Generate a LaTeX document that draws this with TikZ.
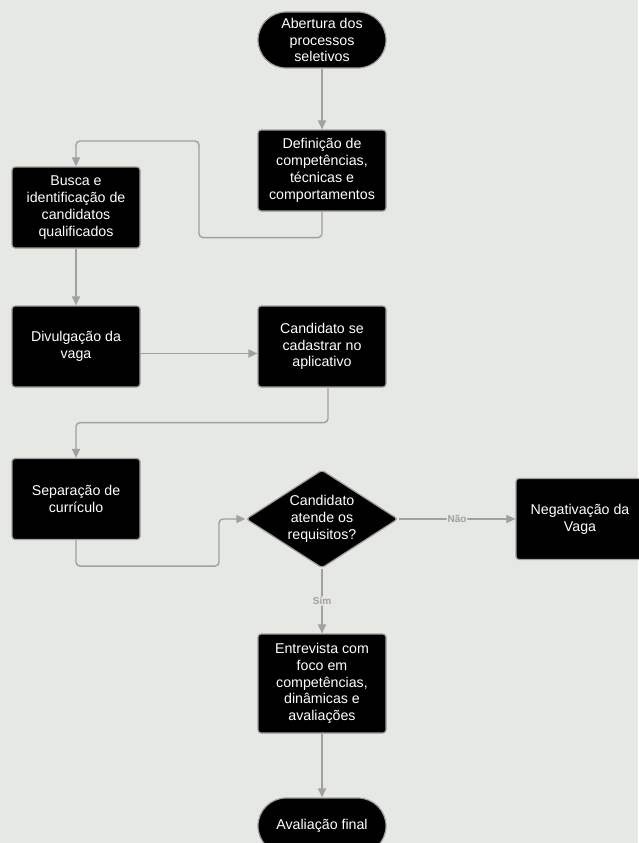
\documentclass[tikz,border=0pt]{standalone}
\usepackage{fontspec}
\setmainfont{Liberation Sans}
\usetikzlibrary{shapes.geometric,arrows.meta}
\definecolor{paper}{RGB}{230,232,227}
\definecolor{edgegray}{RGB}{160,160,160}
\tikzset{
  stepnode/.style = {shape=rectangle, rounded corners=3pt,
                     draw=edgegray, line width=1.2pt, fill=black,
                     text=white, align=center, inner sep=2pt,
                     minimum width=128pt, minimum height=81pt,
                     font=\fontsize{14.2}{16.8}\selectfont},
  terminal/.style = {stepnode, rounded corners=28pt, minimum height=56pt},
  decision/.style = {stepnode, shape=diamond, aspect=1.55, inner sep=0pt,
                     minimum width=152pt, minimum height=98pt},
  flow/.style     = {draw=edgegray, line width=1.4pt, rounded corners=4pt,
                     -{Triangle[length=9pt,width=8pt]}},
  answer/.style   = {text=edgegray, fill=paper, inner sep=1pt,
                     font=\fontsize{10}{11}\selectfont\bfseries}
}
\begin{document}
\begin{tikzpicture}[x=1pt,y=-1pt]
  \fill[paper] (0,0) rectangle (638,843);
  \useasboundingbox (0,0) rectangle (638,843);

  \node[terminal] (open) at (322,40) {Abertura dos\\processos\\seletivos};
  \node[stepnode] (define) at (322,170.5) {Definição de\\competências,\\técnicas e\\comportamentos};
  \node[stepnode] (search) at (76,207.5) {Busca e\\identificação de\\candidatos\\qualificados};
  \node[stepnode] (publish) at (76,346.5) {Divulgação da\\vaga};
  \node[stepnode] (signup) at (322,346.5) {Candidato se\\cadastrar no\\aplicativo};
  \node[stepnode] (sort) at (76,499) {Separação de\\currículo};
  \node[decision] (check) at (322,519) {Candidato\\atende os\\requisitos?};
  \node[stepnode] (reject) at (580,519) {Negativação da\\Vaga};
  \node[stepnode, minimum height=99pt] (interview) at (322,683.5) {Entrevista com\\foco em\\competências,\\dinâmicas e\\avaliações};
  \node[terminal] (final) at (322,826) {Avaliação final};

  \draw[flow] (open) -- (define);
  \draw[flow] (define.south) -- ++(0,26) -| (199,141) -| (search.north);
  \draw[flow] (search) -- (publish);
  \draw[flow] ([yshift=-7pt]publish.east) -- ([yshift=-7pt]signup.west);
  \draw[flow] ([xshift=6pt]signup.south) -- ++(0,35) -| (sort.north);
  \draw[flow] (sort.south) -- ++(0,26) -| (219,519) -- (check.west);
  \draw[flow] (check) -- node[answer] {Não} (reject);
  \draw[flow] (check) -- node[answer] {Sim} (interview);
  \draw[flow] (interview) -- (final);
\end{tikzpicture}
\end{document}
